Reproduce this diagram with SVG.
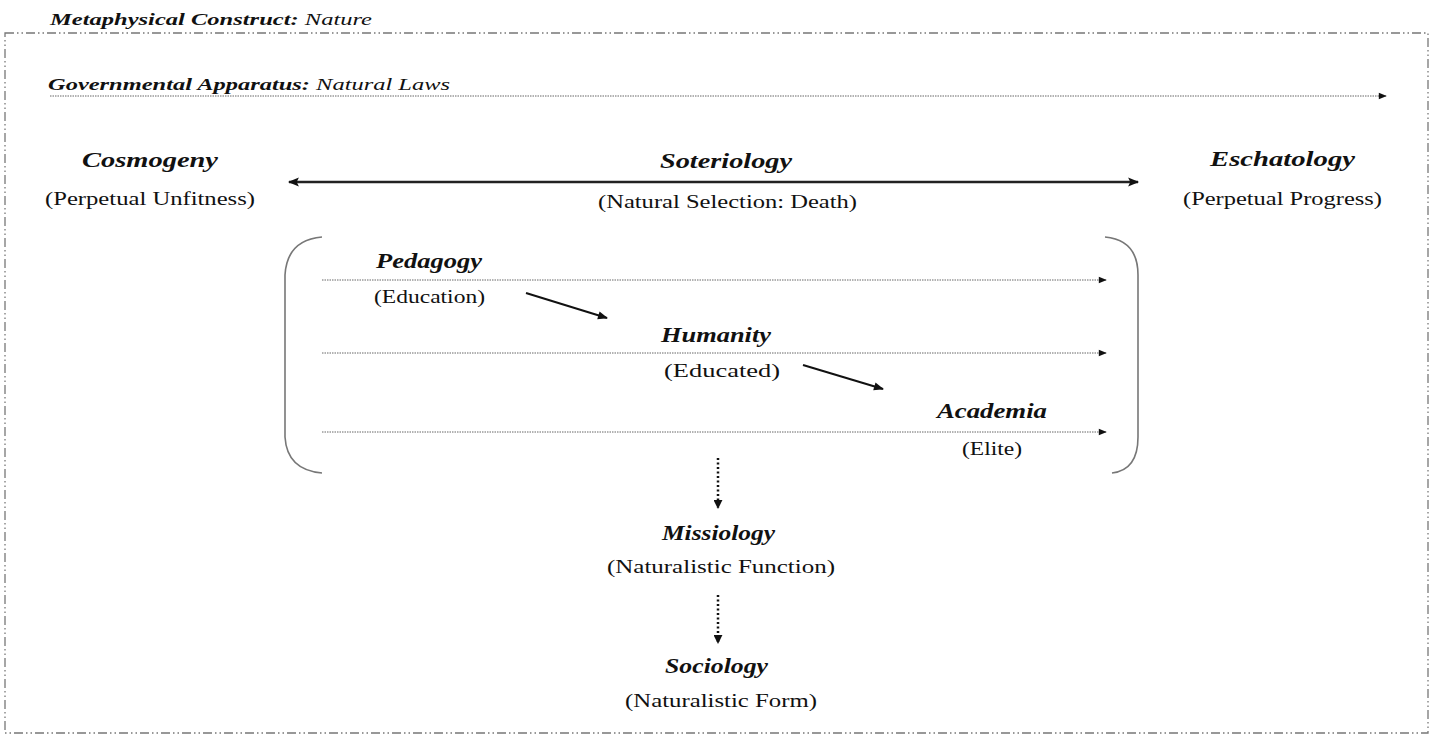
<svg xmlns="http://www.w3.org/2000/svg" width="1434" height="735" viewBox="0 0 1434 735">
<style>
text{font-family:"Liberation Serif","Times New Roman",serif;fill:#111}
.h{font-size:22px;font-weight:bold;font-style:italic}
.m{font-size:20px;font-weight:bold;font-style:italic}
.s{font-size:19px}
.t{font-size:17px;font-style:italic}
.tb{font-weight:bold}
.dot{stroke:#666;stroke-width:1;stroke-dasharray:1.5 1;fill:none}
.sol{stroke:#111;stroke-width:2;fill:none}
.big{stroke:#222;stroke-width:2.5;fill:none}
.vd{stroke:#111;stroke-width:2.5;stroke-dasharray:2 2.5;fill:none}
.frame{stroke:#777;stroke-width:1.3;fill:none;stroke-dasharray:9 3 1.5 3 1.5 3}
.br{stroke:#777;stroke-width:1.6;fill:none}
</style>
<defs>
<marker id="a" viewBox="0 0 10 10" refX="9" refY="5" markerWidth="10" markerHeight="8" markerUnits="userSpaceOnUse" orient="auto"><path d="M0,1 L10,5 L0,9 Z" fill="#111"/></marker>
<marker id="ar" viewBox="0 0 10 10" refX="9" refY="5" markerWidth="13" markerHeight="10" markerUnits="userSpaceOnUse" orient="auto"><path d="M0,1 L10,5 L0,9 Z" fill="#111"/></marker>
<marker id="ab" viewBox="0 0 10 10" refX="9" refY="5" markerWidth="15" markerHeight="11" markerUnits="userSpaceOnUse" orient="auto-start-reverse"><path d="M0,1 L10,5 L0,9 L2,5 Z" fill="#111"/></marker>
<marker id="av" viewBox="0 0 10 10" refX="9" refY="5" markerWidth="9" markerHeight="9" markerUnits="userSpaceOnUse" orient="auto"><path d="M0,0 L10,5 L0,10 Z" fill="#111"/></marker>
</defs>
<rect class="frame" x="5" y="33" width="1423" height="700"/>
<text class="t" x="50" y="25" textLength="322" lengthAdjust="spacingAndGlyphs"><tspan class="tb">Metaphysical Construct:</tspan> Nature</text>
<text class="t" x="48" y="90" textLength="402" lengthAdjust="spacingAndGlyphs"><tspan class="tb">Governmental Apparatus:</tspan> Natural Laws</text>
<g id="connectors">
<line class="dot" x1="50" y1="96" x2="1386" y2="96" marker-end="url(#a)"/>
<line class="big" x1="289" y1="182" x2="1138" y2="182" marker-start="url(#ab)" marker-end="url(#ab)"/>
<line class="dot" x1="322" y1="280" x2="1106" y2="280" marker-end="url(#a)"/>
<line class="dot" x1="322" y1="353" x2="1106" y2="353" marker-end="url(#a)"/>
<line class="dot" x1="322" y1="432" x2="1106" y2="432" marker-end="url(#a)"/>
<line class="sol" x1="526" y1="293" x2="607" y2="318" marker-end="url(#ar)"/>
<line class="sol" x1="803" y1="365" x2="883" y2="389" marker-end="url(#ar)"/>
<line class="vd" x1="718" y1="458" x2="718" y2="508" marker-end="url(#av)"/>
<line class="vd" x1="718" y1="595" x2="718" y2="643" marker-end="url(#av)"/>
</g>
<g id="bracket">
<path class="br" d="M322,237 Q287,240 285,275 L285,437 Q287,470 322,473"/>
<path class="br" d="M1105,237 Q1138,240 1138,275 L1138,437 Q1138,470 1112,473"/>
</g>
<g id="cosmogeny"><text class="h" x="82" y="167" textLength="136" lengthAdjust="spacingAndGlyphs">Cosmogeny</text><text class="s" x="45" y="205" textLength="210" lengthAdjust="spacingAndGlyphs">(Perpetual Unfitness)</text></g>
<g id="soteriology"><text class="h" x="660" y="168" textLength="132" lengthAdjust="spacingAndGlyphs">Soteriology</text><text class="s" x="598" y="208" textLength="259" lengthAdjust="spacingAndGlyphs">(Natural Selection: Death)</text></g>
<g id="eschatology"><text class="h" x="1210" y="166" textLength="145" lengthAdjust="spacingAndGlyphs">Eschatology</text><text class="s" x="1183" y="205" textLength="199" lengthAdjust="spacingAndGlyphs">(Perpetual Progress)</text></g>
<g id="pedagogy"><text class="m" x="376" y="268" textLength="106" lengthAdjust="spacingAndGlyphs">Pedagogy</text><text class="s" x="374" y="303" textLength="111" lengthAdjust="spacingAndGlyphs">(Education)</text></g>
<g id="humanity"><text class="m" x="661" y="342" textLength="110" lengthAdjust="spacingAndGlyphs">Humanity</text><text class="s" x="664" y="377" textLength="116" lengthAdjust="spacingAndGlyphs">(Educated)</text></g>
<g id="academia"><text class="m" x="937" y="418" textLength="110" lengthAdjust="spacingAndGlyphs">Academia</text><text class="s" x="962" y="455" textLength="60" lengthAdjust="spacingAndGlyphs">(Elite)</text></g>
<g id="missiology"><text class="m" x="662" y="540" textLength="113" lengthAdjust="spacingAndGlyphs">Missiology</text><text class="s" x="607" y="573" textLength="228" lengthAdjust="spacingAndGlyphs">(Naturalistic Function)</text></g>
<g id="sociology"><text class="m" x="665" y="673" textLength="103" lengthAdjust="spacingAndGlyphs">Sociology</text><text class="s" x="625" y="707" textLength="192" lengthAdjust="spacingAndGlyphs">(Naturalistic Form)</text></g>
</svg>
